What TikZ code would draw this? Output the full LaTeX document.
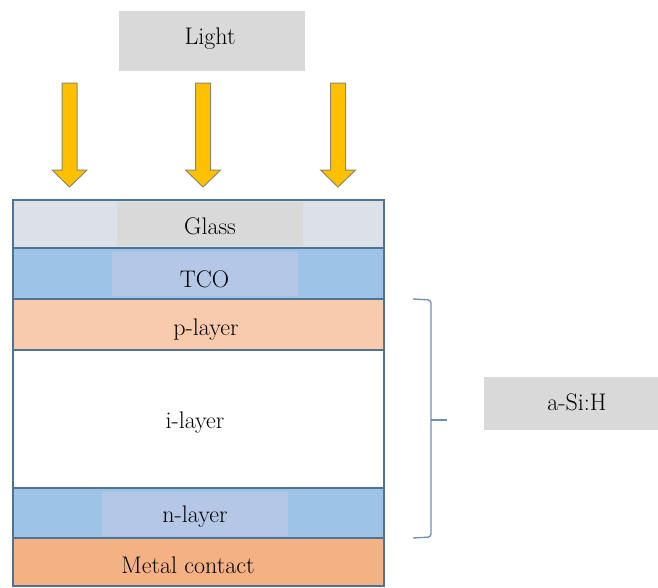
\documentclass[tikz,border=0pt]{standalone}
\definecolor{grayfill}{HTML}{D9D9D9}
\definecolor{glassfill}{HTML}{DCE1E8}
\definecolor{tcofill}{HTML}{9DC3E6}
\definecolor{tcoinner}{HTML}{B4C7E7}
\definecolor{pfill}{HTML}{F8CBAD}
\definecolor{metalfill}{HTML}{F4B183}
\definecolor{edgeblue}{HTML}{4F7396}
\definecolor{bracketblue}{HTML}{6D8FB3}
\definecolor{arrowfill}{HTML}{FFC000}
\definecolor{arrowedge}{HTML}{8A8A6A}
\begin{document}
\begin{tikzpicture}[x=1pt,y=-1pt,
  layerbox/.style={draw=edgeblue, line width=1.8pt, minimum width=371pt, inner sep=0pt, outer sep=0pt},
  labelbox/.style={inner sep=0pt, outer sep=0pt, minimum width=186pt},
  txt/.style={font=\fontsize{24}{26}\selectfont, text=black, inner sep=0pt},
  lightarrow/.style={fill=arrowfill, draw=arrowedge, line width=1pt, line join=miter}
]
\useasboundingbox (0,0) rectangle (658,587);
% Light box
\node[labelbox, fill=grayfill, minimum height=60pt] (light) at (212,41) {};
\node[txt] (lighttxt) at (210,39) {Light};
% arrows
\foreach \cx in {69.5,203,338} {
  \filldraw[lightarrow] (\cx-7.5,83) -- (\cx+7.5,83) -- (\cx+7.5,170) -- (\cx+17.5,170)
     -- (\cx,187) -- (\cx-17.5,170) -- (\cx-7.5,170) -- cycle;
}
% layers
\node[layerbox, fill=glassfill, minimum height=48pt] (glass) at (198.5,224) {};
\node[layerbox, fill=tcofill, minimum height=51pt] (tco) at (198.5,273.5) {};
\node[layerbox, fill=pfill, minimum height=51pt] (player) at (198.5,324.5) {};
\node[layerbox, fill=white, minimum height=138pt] (ilayer) at (198.5,419) {};
\node[layerbox, fill=tcofill, minimum height=50pt] (nlayer) at (198.5,513) {};
\node[layerbox, fill=metalfill, minimum height=48pt] (metal) at (198.5,562) {};
% inner label boxes
\node[labelbox, fill=grayfill, minimum height=44pt] (glassbox) at (210,224) {};
\node[labelbox, fill=tcoinner, minimum height=44pt] (tcobox) at (204.5,274) {};
\node[labelbox, fill=tcoinner, minimum height=44pt] (nbox) at (195,514) {};
% texts
\node[txt] (glasstxt) at (210,226) {Glass};
\node[txt] (tcotxt) at (204.5,279) {TCO};
\node[txt] (ptxt) at (206,330) {p-layer};
\node[txt] (itxt) at (195,423) {i-layer};
\node[txt] (ntxt) at (195,517) {n-layer};
\node[txt] (metaltxt) at (188,565) {Metal contact};
% a-Si:H box
\node[inner sep=0pt, outer sep=0pt, fill=grayfill, minimum width=174pt, minimum height=53pt] (asih) at (571,403.5) {};
\node[txt] (asihtxt) at (577,402) {a-Si:H};
% bracket
\coordinate (btop) at (413,299);
\coordinate (bbot) at (413,538);
\coordinate (bmid) at (431,420);
\coordinate (btick) at (447,420);
\draw[bracketblue, line width=1.3pt, rounded corners=3pt]
  (btop) -- (431,300) -- (bmid) -- (431,537) -- (bbot);
\draw[bracketblue, line width=1.3pt] (bmid) -- (btick);
\end{tikzpicture}
\end{document}
